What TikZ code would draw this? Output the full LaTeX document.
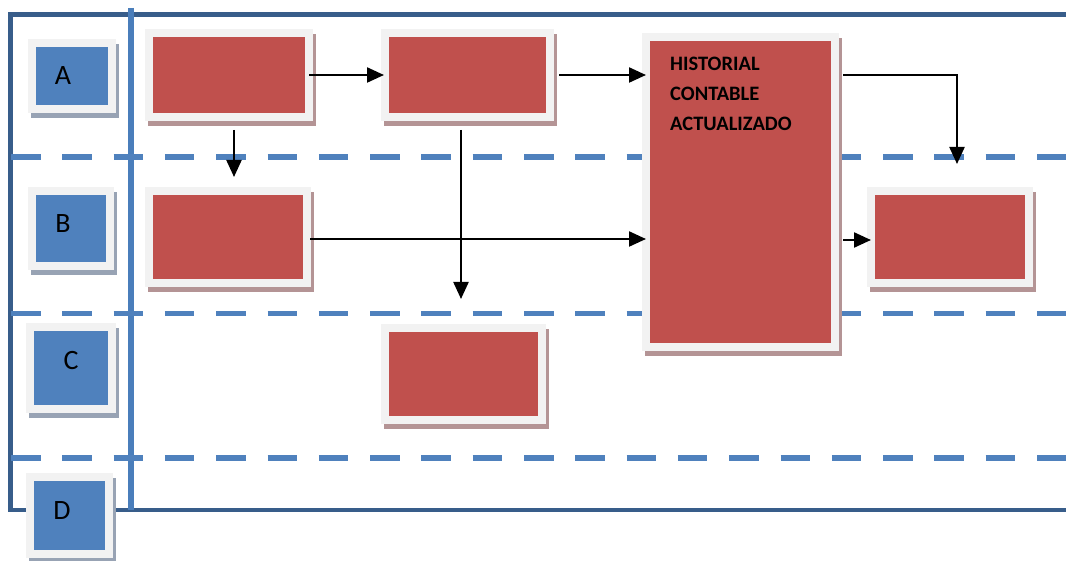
\documentclass[tikz,border=0pt]{standalone}
\usepackage{fontspec}
\setmainfont{Carlito}
\usetikzlibrary{arrows.meta}

\definecolor{frameblue}{RGB}{56,93,138}
\definecolor{sepblue}{RGB}{74,126,187}
\definecolor{laneblue}{RGB}{79,129,189}
\definecolor{boxblue}{RGB}{79,129,189}
\definecolor{boxred}{RGB}{192,80,77}
\definecolor{framegray}{RGB}{242,242,242}
\definecolor{redshadow}{RGB}{180,148,149}
\definecolor{blueshadow}{RGB}{152,163,180}

\tikzset{
  poolframe/.style={draw=frameblue, line width=4.6pt},
  lanedivider/.style={draw=sepblue, line width=6pt},
  laneline/.style={draw=laneblue, line width=5.5pt, dash pattern=on 29.5pt off 21.8pt},
  redbox/.style={rectangle, fill=boxred, draw=framegray, line width=8pt, inner sep=0pt,
    preaction={fill=redshadow, draw=redshadow, line width=8pt,
      transform canvas={xshift=3pt,yshift=-5pt}}},
  lanebox/.style={rectangle, fill=boxblue, draw=framegray, line width=8pt, inner sep=0pt,
    preaction={fill=blueshadow, draw=blueshadow, line width=8pt,
      transform canvas={xshift=2.5pt,yshift=-5pt}}},
  lanetext/.style={inner sep=0pt, font=\fontsize{28pt}{30pt}\selectfont, text=black},
  histtext/.style={inner sep=0pt, align=left, text=black,
    font=\fontsize{20.5pt}{30pt}\selectfont\bfseries},
  arr/.style={draw=black, line width=2.2pt, -{Triangle[length=17pt,width=15pt]}}
}

\begin{document}
\begin{tikzpicture}[x=1pt,y=-1pt]
\useasboundingbox (0,0) rectangle (1066,561);
\fill[white] (0,0) rectangle (1066,561);

% pool frame and lane name column
\draw[poolframe] (1066,14.8) -- (10.5,14.8) -- (10.5,510) -- (1066,510);
\draw[lanedivider] (131,8) -- (131,510);

% lane separators
\draw[laneline] (11,157) -- (1066,157);
\draw[laneline] (11,313.5) -- (1066,313.5);
\draw[laneline] (11,458) -- (1066,458);

% lane name boxes
\node[lanebox, minimum width=80pt, minimum height=66pt] (lA) at (72,76) {};
\node[lanebox, minimum width=78pt, minimum height=75pt] (lB) at (71,228.5) {};
\node[lanebox, minimum width=82pt, minimum height=82pt] (lC) at (71,368) {};
\node[lanebox, minimum width=79pt, minimum height=77pt] (lD) at (69.5,515.5) {};

\node[lanetext] (tA) at (63,75.5) {A};
\node[lanetext] (tB) at (63,224) {B};
\node[lanetext] (tC) at (71,361) {C};
\node[lanetext] (tD) at (62,511) {D};

% activities
\node[redbox, minimum width=160pt, minimum height=84pt] (b1) at (229,75) {};
\node[redbox, minimum width=165pt, minimum height=84pt] (b2) at (467.5,75) {};
\node[redbox, minimum width=189pt, minimum height=310pt] (hist) at (740.5,192) {};
\node[redbox, minimum width=158pt, minimum height=92pt] (b3) at (228,237) {};
\node[redbox, minimum width=158pt, minimum height=92pt] (b4) at (950,237) {};
\node[redbox, minimum width=157pt, minimum height=92pt] (b5) at (463.5,374) {};

\node[histtext, anchor=north west] (htxt) at (670,56.5) {HISTORIAL\\CONTABLE\\ACTUALIZADO};

% flow
\coordinate (c1) at (957,164);
\coordinate (c2) at (461,299);

\draw[arr, shorten <=-4pt, shorten >=-3pt] (b1.east) -- (b2.west);
\draw[arr, shorten <=5pt, shorten >=-4pt] (b2.east) -- (b2.east -| hist.west);
\draw[arr, shorten <=4pt] (b2.east -| hist.east) -| (c1);
\draw[arr, shorten <=9pt, shorten >=10pt] ([xshift=5pt]b1.south) -- ([xshift=5pt]b1.south |- b3.north);
\draw[arr, shorten <=9pt] ([xshift=-6.5pt]b2.south) -- (c2);
\draw[arr, shorten <=-1pt, shorten >=-4pt] ([yshift=-2pt]b3.east) -- ([yshift=-2pt]b3.east -| hist.west);
\draw[arr, shorten <=4pt, shorten >=-4pt] ([yshift=-3pt]b4.west -| hist.east) -- ([yshift=-3pt]b4.west);
\end{tikzpicture}
\end{document}
